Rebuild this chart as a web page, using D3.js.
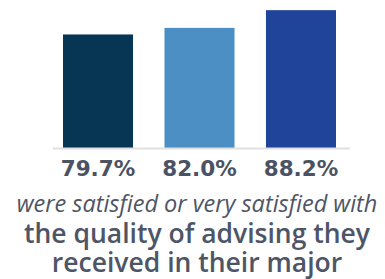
<!DOCTYPE html>
<html>
<head>
<meta charset="utf-8">
<style>
  body { margin: 0; background: #fff; }
</style>
</head>
<body>
<script src="https://d3js.org/d3.v7.min.js"></script>
<script>
  var width = 385, height = 279
  var groups = ['a', 'b', 'c']
  var values = [79.7, 82.0, 88.2]
  var colors = ['#063654', '#4b8fc4', '#1f449a']
  var captionLines = [
    {text: 'were satisfied or very satisfied with', italic: true},
    {text: 'the quality of advising they', italic: false},
    {text: 'received in their major', italic: false}
  ]

  var svg = d3.select('body').append('svg')
    .attr('width', width)
    .attr('height', height)

  var baseY = 148
  var x = d3.scaleBand().domain(groups).range([63, 336]).paddingInner(0.31).paddingOuter(0)
  var y = d3.scaleLinear().domain([40, 90]).range([baseY, 5])

  svg.selectAll('rect.bar')
    .data(values)
    .enter()
    .append('rect')
    .attr('class', 'bar')
    .attr('x', function(d, i){ return x(groups[i]) })
    .attr('width', x.bandwidth())
    .attr('y', function(d){ return y(d) })
    .attr('height', function(d){ return baseY - y(d) })
    .attr('fill', function(d, i){ return colors[i] })

  // baseline
  svg.append('line')
    .attr('x1', 53).attr('x2', 350)
    .attr('y1', baseY + 0.5).attr('y2', baseY + 0.5)
    .attr('stroke', '#e0e0e0')
    .attr('stroke-width', 2)

  svg.selectAll('text.val')
    .data(values)
    .enter()
    .append('text')
    .attr('class', 'val')
    .attr('x', function(d, i){ return x(groups[i]) + x.bandwidth() / 2 })
    .attr('y', 176)
    .attr('text-anchor', 'middle')
    .attr('font-family', 'DejaVu Sans')
    .attr('font-weight', 'bold')
    .attr('font-size', 21.5)
    .attr('fill', '#4a5263')
    .text(function(d){ return d.toFixed(1) + '%' })

  var lineY = [212, 243, 272]
  svg.selectAll('text.cap')
    .data(captionLines)
    .enter()
    .append('text')
    .attr('class', 'cap')
    .attr('x', 197)
    .attr('y', function(d, i){ return lineY[i] })
    .attr('text-anchor', 'middle')
    .attr('font-family', 'Open Sans')
    .attr('font-style', function(d){ return d.italic ? 'italic' : 'normal' })
    .attr('font-weight', function(d){ return d.italic ? 400 : 600 })
    .attr('font-size', function(d){ return d.italic ? 23.5 : 26.5 })
    .attr('fill', '#4d5566')
    .text(function(d){ return d.text })
</script>
</body>
</html>
